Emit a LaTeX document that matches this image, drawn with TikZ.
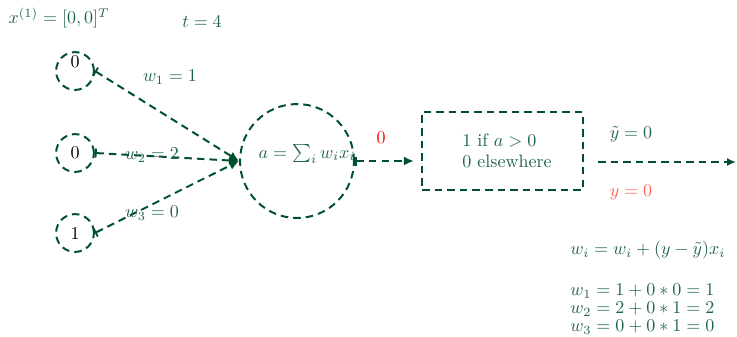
\documentclass[tikz,border=0pt]{standalone}
\usetikzlibrary{arrows.meta}
\definecolor{lineg}{RGB}{0,80,48}
\definecolor{textg}{RGB}{30,100,70}
\definecolor{salmon}{RGB}{250,100,80}
\begin{document}
\begin{tikzpicture}[x=0.5556pt,y=-0.5556pt,
  dl/.style={draw=lineg,line width=1.1pt,dash pattern=on 4.2pt off 2.8pt},
  inp/.style={dl,circle,minimum size=21pt,inner sep=0pt,text=black},
  conn/.style={dl,{Bar[width=5pt,line width=1pt]}-{Latex[length=5.5pt,width=5pt]}},
  outc/.style={dl,-{Latex[length=5pt,width=4.5pt]}},
  lab/.style={text=textg,inner sep=0pt}]
\useasboundingbox (0,0) rectangle (737,336);
\node[lab] (xvec) at (59,18) {$x^{(1)}=[0,0]^T$};
\node[lab] (tt) at (202,22) {$t=4$};
\node[inp] (i1) at (75,71) {\smash{\raisebox{2.2pt}{0}}};
\node[inp] (i2) at (75,153) {0};
\node[inp] (i3) at (75,233) {1};
\node[dl,circle,minimum size=63.3pt,inner sep=0pt] (sum) at (297,161) {};
\node[lab] (sumt) at (307,154) {$a=\sum_i w_i x_i$};
\draw[conn] (i1.east) -- (sum.west);
\draw[conn] (i2.east) -- (sum.west);
\draw[conn] (i3.east) -- (sum.west);
\node[lab] (w1) at (170,77) {$w_1=1$};
\node[lab] (w2) at (152,155) {$w_2=2$};
\node[lab] (w3) at (152,213) {$w_3=0$};
\node[dl,rectangle,minimum width=89.4pt,minimum height=43.3pt,text=textg,align=left] (act) at (502.5,151) {\hspace{5pt}1 if $a>0$\\\hspace{5pt}0 elsewhere};
\draw[conn] (sum.east) -- ([xshift=-4pt]sum.east -| act.west);
\node[text=red,inner sep=0pt] (r0) at (381,138) {0};
\coordinate (os) at (598,162);
\coordinate (oe) at (736,162);
\draw[outc] (os) -- (oe);
\node[lab] (yt) at (631,134) {$\tilde y=0$};
\node[text=salmon,inner sep=0pt] (y0) at (631,192) {$y=0$};
\node[lab,anchor=west] (upd) at (570,250) {$w_i=w_i+(y-\tilde y)x_i$};
\node[lab,anchor=west] (e1) at (570,291) {$w_1=1+0*0=1$};
\node[lab,anchor=west] (e2) at (570,309) {$w_2=2+0*1=2$};
\node[lab,anchor=west] (e3) at (570,327) {$w_3=0+0*1=0$};
\end{tikzpicture}
\end{document}
